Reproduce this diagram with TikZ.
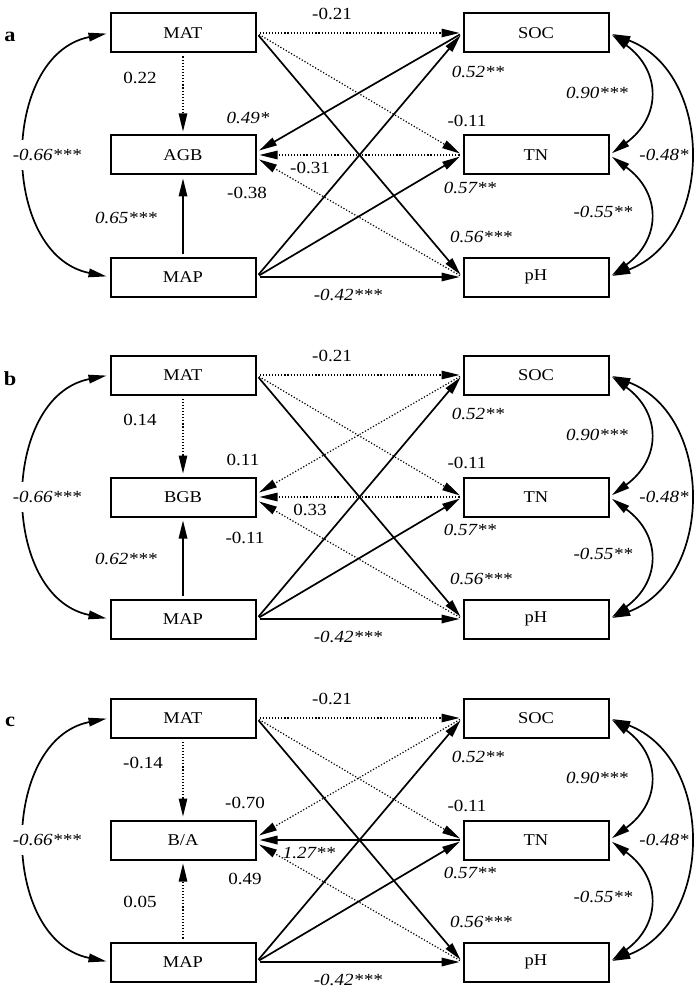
\documentclass[tikz,border=0pt]{standalone}
\usepackage{fontspec}
\setmainfont{Liberation Serif}[FakeStretch=1.12]
\usetikzlibrary{arrows.meta}

\tikzset{
  var/.style={draw, line width=2pt, minimum width=145pt, minimum height=39pt, inner sep=0pt, font=\fontsize{16.5}{19}\selectfont},
  coef/.style={inner sep=1pt, font=\fontsize{17}{20}\selectfont},
  coefit/.style={coef, font=\fontsize{17}{20}\selectfont\itshape},
  tag/.style={font=\fontsize{20}{24}\selectfont\bfseries},
  sig/.style={line width=1.7pt, shorten <=3pt, shorten >=3pt, -{Triangle[length=18pt,width=8.5pt]}},
  nsig/.style={line width=1.2pt, dash pattern=on 1.2pt off 1.9pt, shorten <=3pt, shorten >=3pt, -{Triangle[length=18pt,width=8.5pt]}},
  corr/.style={line width=1.7pt, shorten <=3pt, shorten >=3pt, {Triangle[length=18pt,width=8.5pt]}-{Triangle[length=18pt,width=8.5pt]}},
}

\begin{document}
\begin{tikzpicture}[x=1pt, y=-1pt]
    \useasboundingbox (0,0) rectangle (696,992);

    % Panel a - AGB
    \begin{scope}
        \node[tag] (ta) at (10,37) {a};
        \node[var] (aMAT) at (183,33) {MAT};
        \node[var] (aAGB) at (183,155) {AGB};
        \node[var] (aMAP) at (183,277) {MAP};
        \node[var] (aSOC) at (536,33) {SOC};
        \node[var] (aTN) at (536,155) {TN};
        \node[var] (apH) at (536,277) {pH};
        % climate to soil
        \draw[nsig] (aMAT.east) -- (aSOC.west);
        \draw[nsig] (aMAT.east) -- (aTN.west);
        \draw[sig] (aMAT.east) -- (apH.west);
        \draw[sig] (aMAP.east) -- (aSOC.west);
        \draw[sig] (aMAP.east) -- (aTN.west);
        \draw[sig] (aMAP.east) -- (apH.west);
        % paths into AGB
        \draw[nsig] (aMAT) -- (aAGB);
        \draw[sig] (aMAP) -- (aAGB);
        \draw[sig] (aSOC.west) -- ([yshift=3pt]aAGB.east);
        \draw[nsig] (aTN) -- (aAGB);
        \draw[nsig] (apH.west) -- ([yshift=-3pt]aAGB.east);
        % correlations
        \draw[corr] (aMAT.west) .. controls +(-110,22) and +(-110,-22) .. (aMAP.west);
        \draw[corr] (aSOC.east) .. controls +(52,38) and +(52,-38) .. (aTN.east);
        \draw[corr] (aTN.east) .. controls +(52,38) and +(52,-38) .. (apH.east);
        \draw[corr] (aSOC.east) .. controls +(105,40) and +(105,-40) .. (apH.east);
        % coefficients
        \node[coef] (aMS) at (332,14) {-0.21};
        \node[coef] (aMT) at (467,121) {-0.11};
        \node[coefit] (aMH) at (481,237) {0.56***};
        \node[coefit] (aPS) at (478,72) {0.52**};
        \node[coefit] (aPT) at (470,188) {0.57**};
        \node[coefit] (aPH) at (348,295) {-0.42***};
        \node[coef] (aMB) at (140,78) {0.22};
        \node[coefit] (aPB) at (126,218) {0.65***};
        \node[coefit] (aSB) at (248,118) {0.49*};
        \node[coef] (aTB) at (310,168) {-0.31};
        \node[coef] (aHB) at (247,193) {-0.38};
        \node[coefit, fill=white, inner ysep=9pt] (aMM) at (47,155) {-0.66***};
        \node[coefit] (aST) at (597,93) {0.90***};
        \node[coefit] (aTH) at (603,212) {-0.55**};
        \node[coefit, fill=white, inner ysep=11pt] (aSH) at (664,155) {-0.48*};
    \end{scope}

    % Panel b - BGB
    \begin{scope}[shift={(0,342)}]
        \node[tag] (tb) at (10,37) {b};
        \node[var] (bMAT) at (183,33) {MAT};
        \node[var] (bBGB) at (183,155) {BGB};
        \node[var] (bMAP) at (183,277) {MAP};
        \node[var] (bSOC) at (536,33) {SOC};
        \node[var] (bTN) at (536,155) {TN};
        \node[var] (bpH) at (536,277) {pH};
        % climate to soil
        \draw[nsig] (bMAT.east) -- (bSOC.west);
        \draw[nsig] (bMAT.east) -- (bTN.west);
        \draw[sig] (bMAT.east) -- (bpH.west);
        \draw[sig] (bMAP.east) -- (bSOC.west);
        \draw[sig] (bMAP.east) -- (bTN.west);
        \draw[sig] (bMAP.east) -- (bpH.west);
        % paths into BGB
        \draw[nsig] (bMAT) -- (bBGB);
        \draw[sig] (bMAP) -- (bBGB);
        \draw[nsig] (bSOC.west) -- ([yshift=3pt]bBGB.east);
        \draw[nsig] (bTN) -- (bBGB);
        \draw[nsig] (bpH.west) -- ([yshift=-3pt]bBGB.east);
        % correlations
        \draw[corr] (bMAT.west) .. controls +(-110,22) and +(-110,-22) .. (bMAP.west);
        \draw[corr] (bSOC.east) .. controls +(52,38) and +(52,-38) .. (bTN.east);
        \draw[corr] (bTN.east) .. controls +(52,38) and +(52,-38) .. (bpH.east);
        \draw[corr] (bSOC.east) .. controls +(105,40) and +(105,-40) .. (bpH.east);
        % coefficients
        \node[coef] (bMS) at (332,14) {-0.21};
        \node[coef] (bMT) at (467,121) {-0.11};
        \node[coefit] (bMH) at (481,237) {0.56***};
        \node[coefit] (bPS) at (478,72) {0.52**};
        \node[coefit] (bPT) at (470,188) {0.57**};
        \node[coefit] (bPH) at (348,295) {-0.42***};
        \node[coef] (bMB) at (140,78) {0.14};
        \node[coefit] (bPB) at (126,217) {0.62***};
        \node[coef] (bSB) at (243,118) {0.11};
        \node[coef] (bTB) at (310,168) {0.33};
        \node[coef] (bHB) at (245,196) {-0.11};
        \node[coefit, fill=white, inner ysep=9pt] (bMM) at (47,155) {-0.66***};
        \node[coefit] (bST) at (597,93) {0.90***};
        \node[coefit] (bTH) at (603,212) {-0.55**};
        \node[coefit, fill=white, inner ysep=11pt] (bSH) at (664,155) {-0.48*};
    \end{scope}

    % Panel c - B/A
    \begin{scope}[shift={(0,685)}]
        \node[tag] (tc) at (10,37) {c};
        \node[var] (cMAT) at (183,33) {MAT};
        \node[var] (cBA) at (183,155) {B/A};
        \node[var] (cMAP) at (183,277) {MAP};
        \node[var] (cSOC) at (536,33) {SOC};
        \node[var] (cTN) at (536,155) {TN};
        \node[var] (cpH) at (536,277) {pH};
        % climate to soil
        \draw[nsig] (cMAT.east) -- (cSOC.west);
        \draw[nsig] (cMAT.east) -- (cTN.west);
        \draw[sig] (cMAT.east) -- (cpH.west);
        \draw[sig] (cMAP.east) -- (cSOC.west);
        \draw[sig] (cMAP.east) -- (cTN.west);
        \draw[sig] (cMAP.east) -- (cpH.west);
        % paths into B/A
        \draw[nsig] (cMAT) -- (cBA);
        \draw[nsig] (cMAP) -- (cBA);
        \draw[nsig] (cSOC.west) -- ([yshift=3pt]cBA.east);
        \draw[sig] (cTN) -- (cBA);
        \draw[nsig] (cpH.west) -- ([yshift=-3pt]cBA.east);
        % correlations
        \draw[corr] (cMAT.west) .. controls +(-110,22) and +(-110,-22) .. (cMAP.west);
        \draw[corr] (cSOC.east) .. controls +(52,38) and +(52,-38) .. (cTN.east);
        \draw[corr] (cTN.east) .. controls +(52,38) and +(52,-38) .. (cpH.east);
        \draw[corr] (cSOC.east) .. controls +(105,40) and +(105,-40) .. (cpH.east);
        % coefficients
        \node[coef] (cMS) at (332,14) {-0.21};
        \node[coef] (cMT) at (467,121) {-0.11};
        \node[coefit] (cMH) at (481,237) {0.56***};
        \node[coefit] (cPS) at (478,72) {0.52**};
        \node[coefit] (cPT) at (470,188) {0.57**};
        \node[coefit] (cPH) at (348,295) {-0.42***};
        \node[coef] (cMB) at (143,78) {-0.14};
        \node[coef] (cPB) at (140,217) {0.05};
        \node[coef] (cSB) at (245,118) {-0.70};
        \node[coefit] (cTB) at (309,168) {1.27**};
        \node[coef] (cHB) at (245,194) {0.49};
        \node[coefit, fill=white, inner ysep=9pt] (cMM) at (47,155) {-0.66***};
        \node[coefit] (cST) at (597,93) {0.90***};
        \node[coefit] (cTH) at (603,212) {-0.55**};
        \node[coefit, fill=white, inner ysep=11pt] (cSH) at (664,155) {-0.48*};
    \end{scope}
\end{tikzpicture}
\end{document}
